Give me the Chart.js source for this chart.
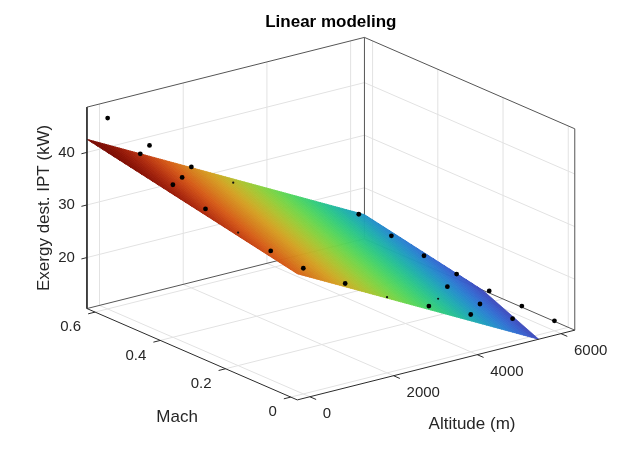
<!DOCTYPE html>
<html>
<head>
<meta charset="utf-8">
<title>Linear modeling</title>
<script src="https://cdn.jsdelivr.net/npm/chart.js@4.4.1/dist/chart.umd.min.js"></script>
<style>
  html, body { margin: 0; padding: 0; background: #fff; }
  #wrap { width: 640px; height: 455px; }
</style>
</head>
<body>
<div id="wrap"><canvas id="chart" width="640" height="455"></canvas></div>
<script>
// measured points: altitude (m), Mach, exergy destruction IPT (kW)
const altitude = [0, 1000, 2000, 3000, 4000, 5000, 6000, 0, 4000, 5000, 6000, 0, 5000, 6000, 0, 6000, 0, 6000, 0, 1000, 6000, 0, 1000, 2000, 3000, 6000];
const mach     = [0, 0, 0, 0, 0, 0, 0, 0.1, 0.1, 0.1, 0.1, 0.2, 0.2, 0.2, 0.3, 0.3, 0.4, 0.4, 0.5, 0.5, 0.5, 0.6, 0.6, 0.6, 0.6, 0.6];
const exergy   = [34.2, 29.3, 24.7, 21.0, 17.4, 14.6, 12.2, 34.8, 17.7, 14.7, 12.3, 35.6, 15.3, 12.5, 37.4, 13.0, 39.3, 13.8, 42.5, 36.0, 14.9, 46.6, 39.4, 33.3, 28.3, 16.3];

// linear model: exergy = c0 + cAlt * altitude + cMach * mach
const fitCoef = [33.3, -0.00416, 12.7];

const altTicks = [0, 2000, 4000, 6000];
const machTicks = [0, 0.2, 0.4, 0.6];
const exergyTicks = [20, 30, 40];
const altLim = [-300, 6330];
const machLim = [-0.02, 0.625];
const exergyLim = [10.3, 48.6];

// view of the 3D box on the page (front-bottom corner, edge vectors, height)
const view = { ox: 297, oy: 403, alt: [281, -71], mach: [-213, -93], h: 205 };

const FONT = "'Liberation Sans', Arial, Helvetica, sans-serif";
const GRID = '#e2e2e2';
const BOX = '#555555';
const AXIS = '#2b2b2b';

function project(a, m, z) {
    const u = (a - altLim[0]) / (altLim[1] - altLim[0]);
    const v = (m - machLim[0]) / (machLim[1] - machLim[0]);
    const w = (z - exergyLim[0]) / (exergyLim[1] - exergyLim[0]);
    return {
        x: view.ox + u * view.alt[0] + v * view.mach[0],
        y: view.oy + u * view.alt[1] + v * view.mach[1] - w * view.h
    };
}

function plane(a, m) {
    return fitCoef[0] + fitCoef[1] * a + fitCoef[2] * m;
}

// turbo colormap (polynomial approximation), a little dimmed like the picture
function turbo(t) {
    t = Math.min(1, Math.max(0, t));
    const r = 0.13572138 + t * (4.61539260 + t * (-42.66032258 + t * (132.13108234 + t * (-152.94239396 + t * 59.28637943))));
    const g = 0.09140261 + t * (2.19418839 + t * (4.84296658 + t * (-14.18503333 + t * (4.27729857 + t * 2.82956604))));
    const b = 0.10667330 + t * (12.64194608 + t * (-60.58204836 + t * (110.36276771 + t * (-89.90310912 + t * 27.34824973))));
    const c = x => Math.round(255 * Math.min(1, Math.max(0, x)) * 0.84);
    return `rgb(${c(r)},${c(g)},${c(b)})`;
}

function line(points, color, width, order) {
    return {
        data: points, borderColor: color, borderWidth: width,
        pointRadius: 0, fill: false, tension: 0, order: order
    };
}

const datasets = [];
const [aLo, aHi] = altLim;
const [mLo, mHi] = machLim;
const [zLo, zHi] = exergyLim;

// grid on the floor and the two back walls
altTicks.forEach(a => {
    datasets.push(line([project(a, mLo, zLo), project(a, mHi, zLo), project(a, mHi, zHi)], GRID, 1, 50));
});
machTicks.forEach(m => {
    datasets.push(line([project(aLo, m, zLo), project(aHi, m, zLo), project(aHi, m, zHi)], GRID, 1, 50));
});
exergyTicks.forEach(z => {
    datasets.push(line([project(aLo, mHi, z), project(aHi, mHi, z), project(aHi, mLo, z)], GRID, 1, 50));
});

// back edges of the box
datasets.push(line([project(aLo, mHi, zHi), project(aHi, mHi, zHi), project(aHi, mLo, zHi)], BOX, 1, 40));
datasets.push(line([project(aHi, mHi, zLo), project(aHi, mHi, zHi)], BOX, 1, 40));
datasets.push(line([project(aHi, mLo, zLo), project(aHi, mLo, zHi)], BOX, 1, 40));
datasets.push(line([project(aLo, mHi, zLo), project(aHi, mHi, zLo), project(aHi, mLo, zLo)], BOX, 1, 40));

// surface: bands of equal colour, clipped to the box floor
function clipPoly(poly, level, keepAbove) {
    const out = [];
    const f = p => (plane(p[0], p[1]) - level) * (keepAbove ? 1 : -1);
    for (let i = 0; i < poly.length; i++) {
        const p = poly[i], q = poly[(i + 1) % poly.length];
        const fp = f(p), fq = f(q);
        if (fp >= 0) out.push(p);
        if ((fp >= 0) !== (fq >= 0)) {
            const t = fp / (fp - fq);
            out.push([p[0] + t * (q[0] - p[0]), p[1] + t * (q[1] - p[1])]);
        }
    }
    return out;
}

const corners = [[aLo, mLo], [aHi, mLo], [aHi, mHi], [aLo, mHi]];
const cornerZ = corners.map(c => plane(c[0], c[1]));
const cLow = Math.min(...cornerZ), cHigh = Math.max(...cornerZ);
const bandBottom = Math.max(cLow, zLo), bandTop = Math.min(cHigh, zHi);
const nBands = 150;
const step = (bandTop - bandBottom) / nBands;
for (let k = 0; k < nBands; k++) {
    const z1 = bandBottom + k * step, z2 = z1 + step;
    let poly = clipPoly(corners, z1, true);
    poly = clipPoly(poly, z2, false);
    if (poly.length < 3) continue;
    const pts = poly.map(p => project(p[0], p[1], plane(p[0], p[1])));
    pts.push(pts[0]);
    const color = turbo(((z1 + z2) / 2 - cLow) / (cHigh - cLow));
    datasets.push({
        data: pts, borderColor: color, backgroundColor: color, borderWidth: 0.8,
        pointRadius: 0, fill: 'shape', tension: 0, order: 20
    });
}

// axis lines and tick marks
datasets.push(line([project(aLo, mHi, zHi), project(aLo, mHi, zLo), project(aLo, mLo, zLo), project(aHi, mLo, zLo)], AXIS, 1, 10));
altTicks.forEach(a => {
    datasets.push(line([project(a, mLo, zLo), project(a, mLo - 0.03 * (mHi - mLo), zLo)], AXIS, 1, 10));
});
machTicks.forEach(m => {
    datasets.push(line([project(aLo, m, zLo), project(aLo - 0.025 * (aHi - aLo), m, zLo)], AXIS, 1, 10));
});
exergyTicks.forEach(z => {
    datasets.push(line([project(aLo, mHi, z), project(aLo - 0.02 * (aHi - aLo), mHi, z)], AXIS, 1, 10));
});

// measured points: those lying under the surface only peek through
const above = [], under = [];
exergy.forEach((z, i) => {
    const p = project(altitude[i], mach[i], z);
    (z >= plane(altitude[i], mach[i]) ? above : under).push(p);
});
datasets.push({ data: above, showLine: false, pointRadius: 2.4, pointBackgroundColor: '#000', pointBorderWidth: 0, order: 0 });
datasets.push({ data: under, showLine: false, pointRadius: 1.1, pointBackgroundColor: '#111', pointBorderWidth: 0, order: 1 });

// text: title, tick labels, axis labels
const textPlugin = {
    id: 'axisText',
    afterDatasetsDraw(chart) {
        const ctx = chart.ctx;
        const sx = chart.scales.x, sy = chart.scales.y;
        const px = p => ({ x: sx.getPixelForValue(p.x), y: sy.getPixelForValue(p.y) });
        ctx.save();
        ctx.fillStyle = '#262626';
        ctx.textBaseline = 'middle';

        ctx.font = `15px ${FONT}`;
        ctx.textAlign = 'right';
        exergyTicks.forEach(z => {
            const p = px(project(aLo, mHi, z));
            ctx.fillText(String(z), p.x - 12, p.y);
        });
        machTicks.forEach(m => {
            const p = px(project(aLo, m, zLo));
            ctx.fillText(String(m), p.x - 14, p.y + 15);
        });
        ctx.textAlign = 'left';
        altTicks.forEach(a => {
            const p = px(project(a, mLo, zLo));
            ctx.fillText(String(a), p.x + 13, p.y + 17);
        });

        ctx.font = `17px ${FONT}`;
        ctx.textAlign = 'center';
        const mMid = px(project(aLo, (mLo + mHi) / 2, zLo));
        ctx.fillText('Mach', mMid.x - 15, mMid.y + 63);
        const aMid = px(project((aLo + aHi) / 2, mLo, zLo));
        ctx.fillText('Altitude (m)', aMid.x + 36, aMid.y + 59);
        const zMid = px(project(aLo, mHi, (zLo + zHi) / 2));
        ctx.save();
        ctx.translate(zMid.x - 43, zMid.y);
        ctx.rotate(-Math.PI / 2);
        ctx.fillText('Exergy dest. IPT (kW)', 0, 0);
        ctx.restore();

        const left = px(project(aLo, mHi, zLo)), right = px(project(aHi, mLo, zLo));
        ctx.fillStyle = '#000';
        ctx.font = `bold 17px ${FONT}`;
        ctx.fillText('Linear modeling', (left.x + right.x) / 2, 22);
        ctx.restore();
    }
};

new Chart(document.getElementById('chart'), {
    type: 'line',
    data: { datasets: datasets },
    options: {
        responsive: false,
        animation: false,
        events: [],
        layout: { padding: 0 },
        plugins: { legend: { display: false }, tooltip: { enabled: false } },
        scales: {
            x: { type: 'linear', min: 0, max: 640, display: false },
            y: { type: 'linear', min: 0, max: 455, reverse: true, display: false }
        }
    },
    plugins: [textPlugin]
});
</script>
</body>
</html>
